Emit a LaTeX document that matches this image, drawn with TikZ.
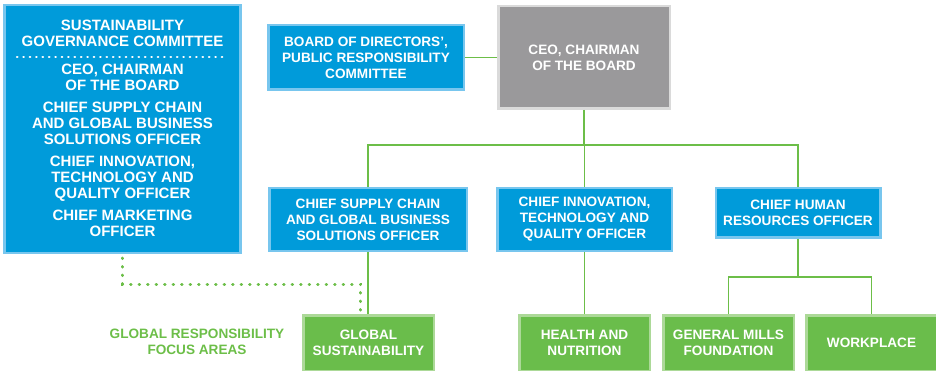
\documentclass[tikz,border=0pt]{standalone}
\usepackage{fontspec}
\setmainfont{Liberation Sans}
\usetikzlibrary{positioning,calc}
\definecolor{gmblue}{RGB}{0,155,218}
\definecolor{gmblueedge}{RGB}{120,198,238}
\definecolor{gmgreen}{RGB}{106,189,75}
\definecolor{gmgreenedge}{RGB}{172,217,152}
\definecolor{gmgrey}{RGB}{154,153,155}
\definecolor{gmgreyedge}{RGB}{218,218,218}
\definecolor{gmline}{RGB}{108,190,72}

\begin{document}
\begin{tikzpicture}[x=1pt, y=-1pt,
    box/.style={line width=2.5pt, align=center, text=white, inner sep=0pt,
        font=\bfseries\fontsize{13.6}{16}\selectfont},
    bluebox/.style={box, draw=gmblueedge, fill=gmblue},
    greybox/.style={box, draw=gmgreyedge, fill=gmgrey},
    greenbox/.style={box, draw=gmgreenedge, fill=gmgreen, minimum width=130.5, minimum height=55.5},
    link/.style={draw=gmline, line width=1.2pt},
    dotlink/.style={draw=gmline, line width=3pt, line cap=round, dash pattern=on 0.6pt off 7.9pt}
]
    \useasboundingbox (0,0) rectangle (936,371);

    % Governance committee on the left
    \node[bluebox, minimum width=236, minimum height=247.5] (sgc) at (122.5,129) {};
    \node[text=white, align=center, font=\bfseries\fontsize{15}{16}\selectfont] (sgctitle) at (122.5,33)
        {SUSTAINABILITY\\GOVERNANCE COMMITTEE};
    \draw[white, line width=2.4pt, line cap=round, dash pattern=on 0.4pt off 6pt] (17,57) -- (228,57);
    \node[text=white, align=center, font=\bfseries\fontsize{15}{16}\selectfont] (sgcmembers) at (122.5,150.5)
        {CEO, CHAIRMAN\\OF THE BOARD\\[6pt]
         CHIEF SUPPLY CHAIN\\AND GLOBAL BUSINESS\\SOLUTIONS OFFICER\\[6pt]
         CHIEF INNOVATION,\\TECHNOLOGY AND\\QUALITY OFFICER\\[6pt]
         CHIEF MARKETING\\OFFICER};

    % Top of the chart
    \node[bluebox, minimum width=195.5, minimum height=64.5] (board) at (366,57.5)
        {BOARD OF DIRECTORS',\\PUBLIC RESPONSIBILITY\\COMMITTEE};
    \node[greybox, minimum width=171.5, minimum height=102.5] (ceo) at (584,57.5)
        {CEO, CHAIRMAN\\OF THE BOARD};

    % Officers
    \node[bluebox, minimum width=197.5, minimum height=62.5] (supply) at (368,219.5)
        {CHIEF SUPPLY CHAIN\\AND GLOBAL BUSINESS\\SOLUTIONS OFFICER};
    \node[bluebox, minimum width=174.5, minimum height=62.5] (innov) at (584.5,219.5)
        {CHIEF INNOVATION,\\TECHNOLOGY AND\\QUALITY OFFICER};
    \node[bluebox, minimum width=164.5, minimum height=49.5] (hr) at (798,213)
        {CHIEF HUMAN\\RESOURCES OFFICER};

    % Focus areas
    \node[greenbox] (gsust) at (368.5,343) {GLOBAL\\SUSTAINABILITY};
    \node[greenbox] (health) at (584.5,343) {HEALTH AND\\NUTRITION};
    \node[greenbox] (gmf) at (728.5,343) {GENERAL MILLS\\FOUNDATION};
    \node[greenbox] (work) at (871.5,343) {WORKPLACE};
    \node[align=center, text=gmline, font=\bfseries\fontsize{13.6}{16}\selectfont] (focus) at (197,341.5)
        {GLOBAL RESPONSIBILITY\\FOCUS AREAS};

    % Connectors
    \coordinate (hub) at (584,145);
    \coordinate (hrhub) at (798,277);
    \draw[link] (board.east) -- (ceo.west);
    \draw[link] (ceo.south) -- (hub);
    \draw[link] (supply.north) |- (hub) -| (hr.north);
    \draw[link] (innov.north) -- (innov.north |- hub);
    \draw[link] (supply.south) -- (supply.south |- gsust.north);
    \draw[link] (innov.south) -- (innov.south |- health.north);
    \draw[link] (hr.south) -- (hrhub);
    \draw[link] (gmf.north) |- (hrhub) -| (work.north);
    \draw[dotlink] ([yshift=-4pt]sgc.south) |- (360,284) -- ([xshift=-8.5pt,yshift=-3pt]gsust.north);
\end{tikzpicture}
\end{document}
